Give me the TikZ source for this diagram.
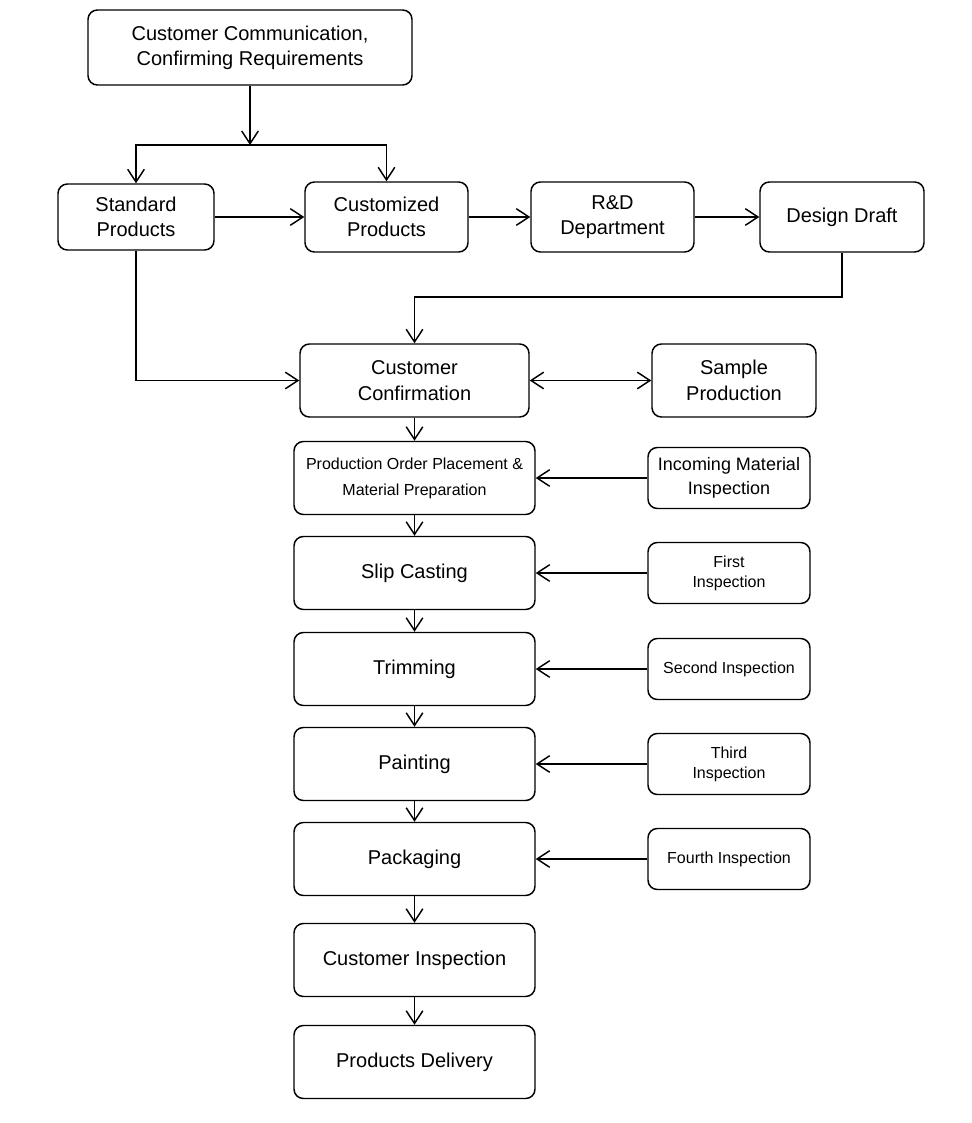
\documentclass[tikz,border=0pt]{standalone}
\usepackage{fontspec}
\setmainfont{Liberation Sans}
\usetikzlibrary{arrows.meta}

\begin{document}
\begin{tikzpicture}[x=0.75pt, y=-0.75pt, line width=1.1pt,
    every node/.style={draw, rounded corners=7pt, align=center, inner sep=0pt, font=\fontsize{15}{19}\selectfont},
    mainbox/.style={minimum width=241*0.75pt, minimum height=73*0.75pt},
    sidebox/.style={minimum width=162*0.75pt, minimum height=61*0.75pt, font=\fontsize{12}{15}\selectfont},
    topbox/.style={minimum width=163*0.75pt, minimum height=70*0.75pt},
    >={Straight Barb[length=9.5pt, width=12.5pt, line width=1.1pt]}]
\useasboundingbox (0,0) rectangle (971,1123);
\node[minimum width=324*0.75pt, minimum height=75*0.75pt] (comm) at (250,47.5) {Customer Communication,\\Confirming Requirements};
\node[minimum width=156*0.75pt, minimum height=66*0.75pt] (std) at (136,217) {Standard\\Products};
\node[topbox] (cust) at (386.5,217) {Customized\\Products};
\node[topbox] (rd) at (612.5,217) {R\&D\\Department};
\node[topbox, minimum width=164*0.75pt] (draft) at (842,217) {Design Draft};
\node[mainbox, minimum width=229*0.75pt] (conf) at (414.5,380.5) {Customer\\Confirmation};
\node[topbox, minimum height=73*0.75pt, minimum width=164*0.75pt] (sample) at (734,380.5) {Sample\\Production};
\node[mainbox, font=\fontsize{12}{19.5}\selectfont] (order) at (414.5,478) {Production Order Placement \&\\Material Preparation};
\node[mainbox] (slip) at (414.5,573) {Slip Casting};
\node[mainbox] (trim) at (414.5,669) {Trimming};
\node[mainbox] (paint) at (414.5,764) {Painting};
\node[mainbox] (pack) at (414.5,859) {Packaging};
\node[mainbox] (cinsp) at (414.5,960) {Customer Inspection};
\node[mainbox] (deliv) at (414.5,1062) {Products Delivery};
\node[sidebox, font=\fontsize{13.5}{18}\selectfont] (incoming) at (729,478) {Incoming Material\\Inspection};
\node[sidebox] (first) at (729,573) {First\\Inspection};
\node[sidebox] (second) at (729,669) {Second Inspection};
\node[sidebox] (third) at (729,764) {Third\\Inspection};
\node[sidebox] (fourth) at (729,859) {Fourth Inspection};
\coordinate (split) at (250,145);
\coordinate (joint) at (414.5,297);
% top branches
\draw[->] (comm) -- (split);
\draw[->] (split) -| (std);
\draw[->] (split) -| (cust);
\draw[->] (std) -- (cust);
\draw[->] (cust) -- (rd);
\draw[->] (rd) -- (draft);
\draw[->] (draft) |- (joint) -- (conf);
\draw[->] (std) |- (conf);
\draw[<->] (conf) -- (sample);
% main line
\foreach \a/\b in {conf/order, order/slip, slip/trim, trim/paint, paint/pack, pack/cinsp, cinsp/deliv}
    \draw[->] (\a) -- (\b);
\foreach \s/\t in {incoming/order, first/slip, second/trim, third/paint, fourth/pack}
    \draw[->] (\s) -- (\t);
\end{tikzpicture}
\end{document}
